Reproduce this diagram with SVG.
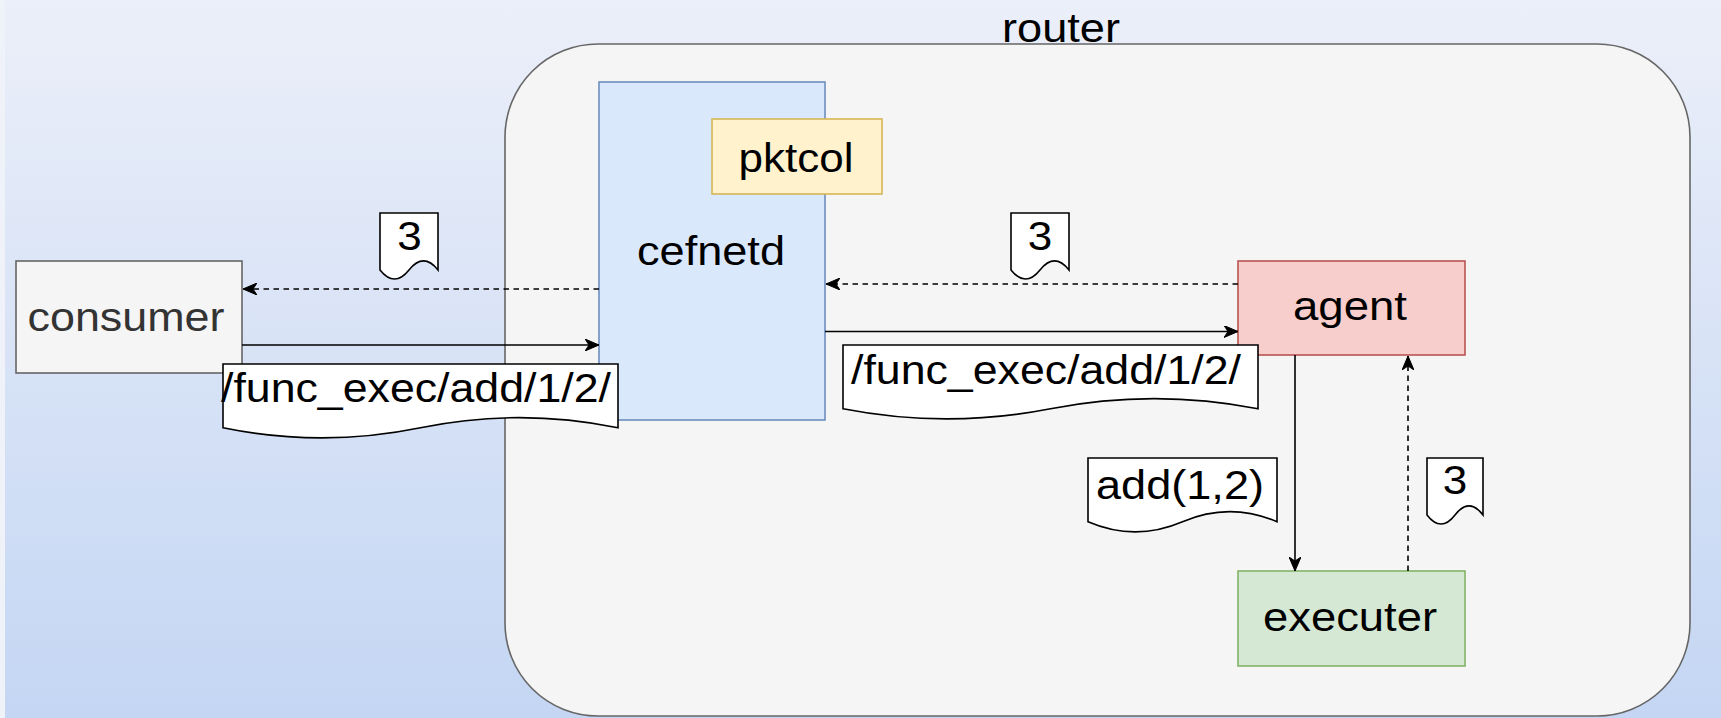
<svg xmlns="http://www.w3.org/2000/svg" width="1721" height="718" viewBox="0 0 1721 718">
  <defs>
    <linearGradient id="bg" x1="0" y1="0" x2="0" y2="1">
      <stop offset="0" stop-color="#ebeff9"/>
      <stop offset="1" stop-color="#c4d6f3"/>
    </linearGradient>
    <marker id="arrow" viewBox="0 0 14 12" refX="14" refY="6" markerWidth="14" markerHeight="12" markerUnits="userSpaceOnUse" orient="auto">
      <path d="M14,6 L0,0 L4,6 L0,12 Z" fill="#000" stroke="#000" stroke-width="1" stroke-dasharray="none" stroke-linejoin="miter"/>
    </marker>
    <style>
      text { font-family: "Liberation Sans", Arial, Helvetica, sans-serif; font-size: 41px; fill: #000; text-anchor: middle; }
      .box { stroke-width: 1.6; }
      .doc { fill: #ffffff; stroke: #000; stroke-width: 1.6; stroke-linejoin: miter; }
      .edge { fill: none; stroke: #000; stroke-width: 1.6; marker-end: url(#arrow); }
      .dash { stroke-dasharray: 5.5 4.5; }
    </style>
  </defs>

  <!-- page background -->
  <rect x="0" y="0" width="1721" height="718" fill="#eff2f9"/>
  <rect x="5" y="0" width="1716" height="718" fill="url(#bg)"/>

  <!-- router container -->
  <g id="router">
    <rect x="505" y="44" width="1185" height="672" rx="93" ry="93" fill="#f5f5f5" stroke="#666666" stroke-width="1.6"/>
    <text x="1061" y="42" textLength="118" lengthAdjust="spacingAndGlyphs">router</text>
  </g>

  <g id="consumer">
    <rect class="box" x="16" y="261" width="226" height="112" fill="#f5f5f5" stroke="#666666"/>
    <text x="126" y="331" style="fill:#333333" textLength="197" lengthAdjust="spacingAndGlyphs">consumer</text>
  </g>

  <g id="cefnetd">
    <rect class="box" x="599" y="82" width="226" height="338" fill="#dae8fc" stroke="#6c8ebf"/>
    <text x="711" y="265" textLength="148" lengthAdjust="spacingAndGlyphs">cefnetd</text>
  </g>

  <g id="pktcol">
    <rect class="box" x="712" y="119" width="170" height="75" fill="#fff2cc" stroke="#d6b656"/>
    <text x="796" y="172" textLength="115" lengthAdjust="spacingAndGlyphs">pktcol</text>
  </g>

  <g id="agent">
    <rect class="box" x="1238" y="261" width="227" height="94" fill="#f8cecc" stroke="#b85450"/>
    <text x="1350" y="320" textLength="114" lengthAdjust="spacingAndGlyphs">agent</text>
  </g>

  <g id="executer">
    <rect class="box" x="1238" y="571" width="227" height="95" fill="#d5e8d4" stroke="#82b366"/>
    <text x="1350" y="631" textLength="174" lengthAdjust="spacingAndGlyphs">executer</text>
  </g>

  <!-- message flows -->
  <g id="connectors">
    <path class="edge dash" d="M599,289 H243"/>
    <path class="edge" d="M242,345 H599"/>
    <path class="edge dash" d="M1238,284 H826"/>
    <path class="edge" d="M825,331.5 H1238"/>
    <path class="edge" d="M1295,355 V571"/>
    <path class="edge dash" d="M1408,571 V356"/>
  </g>

  <!-- message documents -->
  <g id="msg-result-consumer">
    <path class="doc" d="M380,213 H438 V269.95 Q423.5,251.86 409,269.95 Q394.5,288.04 380,269.95 Z"/>
    <text x="409.5" y="249.5" textLength="24.5" lengthAdjust="spacingAndGlyphs">3</text>
  </g>

  <g id="msg-request-cefnetd">
    <path class="doc" d="M223,364 H618 V427.75 Q519.25,407.5 420.5,427.75 Q321.75,448 223,427.75 Z"/>
    <text x="416" y="402" textLength="390" lengthAdjust="spacingAndGlyphs">/func_exec/add/1/2/</text>
  </g>

  <g id="msg-result-cefnetd">
    <path class="doc" d="M1011,213 H1069 V269.95 Q1054.5,251.86 1040,269.95 Q1025.5,288.04 1011,269.95 Z"/>
    <text x="1040" y="249.5" textLength="24.5" lengthAdjust="spacingAndGlyphs">3</text>
  </g>

  <g id="msg-request-agent">
    <path class="doc" d="M843,345 H1258 V408.75 Q1154.25,388.5 1050.5,408.75 Q946.75,429 843,408.75 Z"/>
    <text x="1046" y="384" textLength="390" lengthAdjust="spacingAndGlyphs">/func_exec/add/1/2/</text>
  </g>

  <g id="msg-call-executer">
    <path class="doc" d="M1088,458 H1277 V521.75 Q1229.75,501.5 1182.5,521.75 Q1135.25,542 1088,521.75 Z"/>
    <text x="1180" y="499" textLength="168" lengthAdjust="spacingAndGlyphs">add(1,2)</text>
  </g>

  <g id="msg-result-agent">
    <path class="doc" d="M1427,458 H1483 V514.95 Q1469,496.86 1455,514.95 Q1441,533.04 1427,514.95 Z"/>
    <text x="1455" y="494" textLength="24.5" lengthAdjust="spacingAndGlyphs">3</text>
  </g>
</svg>
